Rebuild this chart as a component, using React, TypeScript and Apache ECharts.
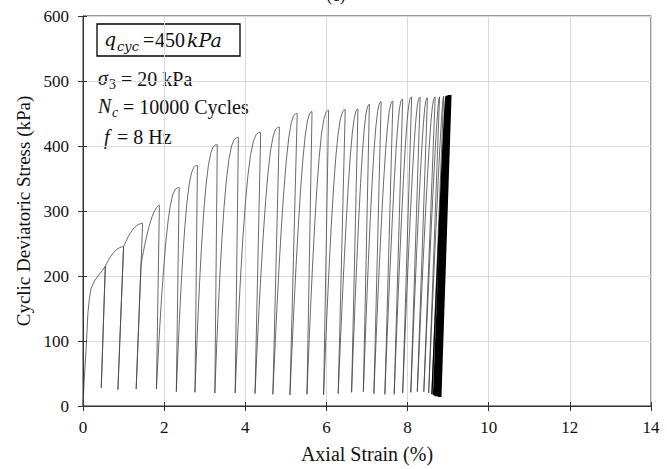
import React, { useEffect, useRef } from "react";
import * as echarts from "echarts";

// ---- data ----
const xTickValues = [0, 2, 4, 6, 8, 10, 12, 14];
const yTickValues = [0, 100, 200, 300, 400, 500, 600];

// first (virgin) loading curve
const initialLoadStrain = [0, 0.03, 0.08, 0.12, 0.16, 0.2, 0.28, 0.37, 0.47, 0.55];
const initialLoadStress = [0, 40, 91, 142, 167, 181, 192, 200, 208, 215];

// individual plotted cycles: peak and the valley reached after unloading
const peakStrain = [0.55, 1.0, 1.47, 1.9, 2.37, 2.82, 3.31, 3.83, 4.38, 4.84, 5.28, 5.66, 6.07, 6.48, 6.79, 7.07, 7.36, 7.65, 7.88, 8.1, 8.31, 8.49, 8.68, 8.8, 8.9];
const peakStress = [215, 245, 281, 309, 336, 370, 402, 413, 421, 429, 450, 453, 455, 456, 457, 464, 468, 469, 472, 475, 475, 474, 475, 476, 477];
const valleyStrain = [0.45, 0.86, 1.31, 1.81, 2.3, 2.76, 3.25, 3.75, 4.24, 4.68, 5.1, 5.52, 5.93, 6.29, 6.62, 6.91, 7.17, 7.44, 7.67, 7.88, 8.08, 8.24, 8.4, 8.52, 8.6];
const valleyStress = [28, 25, 26, 26, 22, 21, 20, 20, 19, 18, 17, 18, 17, 19, 21, 22, 19, 18, 18, 20, 21, 22, 22, 20, 18];
// how far up the previous unloading line the reload follows before bending (first cycles form cusps)
const reloadDeparture = [0, 1, 1, 0.75];

// dense band of the later cycles (thousands overlapping)
const bandPeakStrain = [8.95, 8.96, 8.97, 8.98, 8.99, 9.0, 9.01, 9.02, 9.03, 9.04, 9.05, 9.06, 9.07];
const bandPeakStress = [477, 477, 478, 478, 478, 478, 479, 479, 479, 479, 479, 479, 479];
const bandValleyStrain = [8.64, 8.66, 8.67, 8.69, 8.7, 8.72, 8.73, 8.75, 8.76, 8.78, 8.79, 8.8, 8.82];
const bandValleyStress = [17, 16, 16, 15, 15, 15, 15, 15, 14, 14, 14, 14, 14];

const SERIF = "'Liberation Serif', 'DejaVu Serif', serif";
const MATH = "'DejaVu Serif', 'Liberation Serif', serif";
const U_STEPS = [0, 0.03, 0.07, 0.12, 0.18, 0.26, 0.35, 0.45, 0.56, 0.68, 0.8, 0.9, 0.96, 1];

function reload(
  pts: number[][],
  xv: number, yv: number,
  xpp: number, ypp: number,
  xp: number, yp: number,
  f: number
) {
  const xd = xv + (xpp - xv) * f;
  const yd = yv + (ypp - yv) * f;
  const p = f > 0.5 ? 2 : 3;
  pts.push([xv, yv]);
  for (const u of U_STEPS) {
    const t = 1 - Math.pow(1 - u, p);
    pts.push([xd + (xpp - xd) * t + (xp - xpp) * u, yd + (yp - yd) * t]);
  }
}

function buildMain(): number[][] {
  const pts: number[][] = [];
  for (let k = 0; k < initialLoadStrain.length; k++) pts.push([initialLoadStrain[k], initialLoadStress[k]]);
  pts.push([valleyStrain[0], valleyStress[0]]);
  for (let i = 1; i < peakStrain.length; i++) {
    const f = i < reloadDeparture.length ? reloadDeparture[i] : 0;
    reload(pts, valleyStrain[i - 1], valleyStress[i - 1], peakStrain[i - 1], peakStress[i - 1], peakStrain[i], peakStress[i], f);
    pts.push([valleyStrain[i], valleyStress[i]]);
  }
  return pts;
}

function buildBand(): number[][] {
  const pts: number[][] = [];
  const n = peakStrain.length - 1;
  let xv = valleyStrain[n], yv = valleyStress[n], xpp = peakStrain[n], ypp = peakStress[n];
  for (let i = 0; i < bandPeakStrain.length; i++) {
    reload(pts, xv, yv, xpp, ypp, bandPeakStrain[i], bandPeakStress[i], 0);
    pts.push([bandValleyStrain[i], bandValleyStress[i]]);
    xv = bandValleyStrain[i]; yv = bandValleyStress[i]; xpp = bandPeakStrain[i]; ypp = bandPeakStress[i];
  }
  return pts;
}

const txt = (x: number, y: number, text: string, size: number, italic = false, family = SERIF) => ({
  type: "text",
  x,
  y,
  silent: true,
  style: {
    text,
    fill: "#111",
    font: `${italic ? "italic " : ""}${size}px ${family}`,
    textVerticalAlign: "middle",
    textAlign: "left",
  },
});

export default function App() {
  const ref = useRef<HTMLDivElement>(null);
  useEffect(() => {
    if (!ref.current) return;
    const chart = echarts.init(ref.current, undefined, { renderer: "svg" });
    const axisCommonX = {
      type: "value",
      min: xTickValues[0],
      max: xTickValues[xTickValues.length - 1],
      interval: 2,
    };
    const axisCommonY = {
      type: "value",
      min: yTickValues[0],
      max: yTickValues[yTickValues.length - 1],
      interval: 100,
    };
    chart.setOption({
      animation: false,
      backgroundColor: "#fff",
      grid: {
        left: 83,
        right: 16,
        top: 16,
        bottom: 59,
        show: true,
        borderColor: "#333",
        borderWidth: 1,
      },
      xAxis: [
        {
          ...axisCommonX,
          name: "Axial Strain (%)",
          nameLocation: "middle",
          nameGap: 38,
          nameTextStyle: { fontFamily: SERIF, fontSize: 20, color: "#111" },
          axisLine: { show: true, lineStyle: { color: "#333", width: 1 } },
          axisTick: { show: true, inside: false, length: 5, lineStyle: { color: "#333" } },
          axisLabel: { fontFamily: SERIF, fontSize: 17, color: "#111", margin: 13 },
          splitLine: { show: true, lineStyle: { color: "#d9d9d9", width: 1 } },
        },
        {
          ...axisCommonX,
          position: "bottom",
          axisLine: { show: false },
          axisTick: { show: true, inside: true, length: 4, lineStyle: { color: "#333" } },
          axisLabel: { show: false },
          splitLine: { show: false },
        },
      ],
      yAxis: [
        {
          ...axisCommonY,
          name: "Cyclic Deviatoric Stress (kPa)",
          nameLocation: "middle",
          nameGap: 49,
          nameRotate: 90,
          nameTextStyle: { fontFamily: SERIF, fontSize: 19, color: "#111" },
          axisLine: { show: true, lineStyle: { color: "#333", width: 1 } },
          axisTick: { show: true, inside: false, length: 5, lineStyle: { color: "#333" } },
          axisLabel: { fontFamily: SERIF, fontSize: 17, color: "#111", margin: 14 },
          splitLine: { show: true, lineStyle: { color: "#d9d9d9", width: 1 } },
        },
        {
          ...axisCommonY,
          position: "left",
          axisLine: { show: false },
          axisTick: { show: true, inside: true, length: 4, lineStyle: { color: "#333" } },
          axisLabel: { show: false },
          splitLine: { show: false },
        },
      ],
      series: [
        {
          type: "line",
          data: buildMain(),
          showSymbol: false,
          symbol: "none",
          lineStyle: { color: "#444", width: 0.8 },
          xAxisIndex: 0,
          yAxisIndex: 0,
        },
        {
          type: "line",
          data: buildBand(),
          showSymbol: false,
          symbol: "none",
          lineStyle: { color: "#000", width: 1.3 },
          xAxisIndex: 0,
          yAxisIndex: 0,
        },
      ],
      graphic: [
        {
          type: "text",
          x: 336,
          y: 4,
          silent: true,
          style: {
            text: "(c)",
            fill: "#111",
            font: `17px ${SERIF}`,
            textAlign: "center",
            textVerticalAlign: "bottom",
          },
        },
        {
          type: "rect",
          shape: { x: 97, y: 24, width: 143, height: 32 },
          style: { fill: "#fff", stroke: "#000", lineWidth: 1.3 },
          silent: true,
        },
        txt(104, 39, "q", 19, true, MATH),
        txt(117, 46, "cyc", 13, true, MATH),
        txt(143, 40, "=", 20),
        txt(155, 40, "450", 20),
        txt(187, 40, "kPa", 19, true, MATH),
        txt(98, 78, "σ", 20, true),
        txt(109, 84, "3", 14),
        txt(121, 79, "= 20 kPa", 20),
        txt(98, 106, "N", 20, true),
        txt(112, 112, "c", 14, true),
        txt(123, 107, "= 10000 Cycles", 20),
        txt(104, 137, "f", 20, true),
        txt(117, 137, "= 8 Hz", 20),
      ],
    });
    return () => chart.dispose();
  }, []);
  return (
    <div
      ref={ref}
      style={{ position: "fixed", left: 0, top: 0, width: 667, height: 469, background: "#fff" }}
    />
  );
}
